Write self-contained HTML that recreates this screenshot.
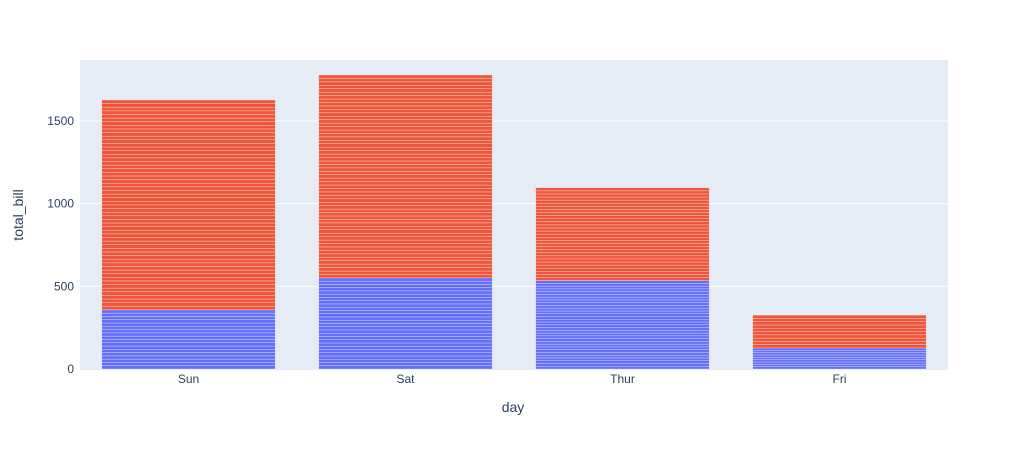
<!DOCTYPE html>
<html><head><meta charset="utf-8"><style>
body{margin:0;background:#fff;font-family:"Liberation Sans",sans-serif}
svg text{font-family:"Liberation Sans",sans-serif;fill:#2a3f5f}
</style></head><body>
<svg id="c" width="1029" height="450">
<rect x="80" y="60" width="868" height="310" fill="#e5ecf6"/>
<g id="grid"></g><g id="bars"></g><g id="ax"></g>
<text x="513" y="412" text-anchor="middle" font-size="14">day</text>
<text transform="translate(23,215) rotate(-90)" text-anchor="middle" font-size="14">total_bill</text>
</svg>
<script>
const categories=["Sun","Sat","Thur","Fri"];
const femaleTotals=[357.70,551.05,534.89,127.31];
const maleTotals=[1269.46,1227.35,561.44,198.57];
const femaleCounts=[18,28,32,9];
const maleCounts=[58,59,30,10];
const yTicks=[0,500,1000,1500];
const NS="http://www.w3.org/2000/svg";
const x0=80,pw=868,yBase=369,yPer=(369-121)/1500;
const band=pw/categories.length;
function y(v){return yBase-v*yPer;}
function xc(i){return x0+band*(i+0.5);}
function mk(t,a,p){const e=document.createElementNS(NS,t);for(const k in a)e.setAttribute(k,a[k]);p.appendChild(e);return e;}
const g=document.getElementById('grid'),b=document.getElementById('bars'),ax=document.getElementById('ax');
yTicks.forEach(v=>{
 if(v>0){const l=mk('line',{x1:80,x2:948,y1:y(v),y2:y(v),stroke:'#fff','stroke-width':1},g);
 
 }
 const t=mk('text',{x:74,y:y(v)+4,'text-anchor':'end','font-size':12},ax);t.textContent=v;
 
 
});
const bw=band*0.8;
categories.forEach((c,i)=>{
 const left=xc(i)-bw/2;
 let acc=0;
 [[femaleTotals[i],femaleCounts[i],'#636efa','female'],[maleTotals[i],maleCounts[i],'#EF553B','male']].forEach(([tot,n,col,s])=>{
  const seg=tot/n;
  for(let k=0;k<n;k++){
   const v0=acc+seg*k,v1=v0+seg;
   const r=mk('rect',{x:left,y:y(v1),width:bw,height:y(v0)-y(v1),fill:col,stroke:'#fff','stroke-width':0.5,'stroke-opacity':0.6},b);
   
   
  }
  acc+=tot;
 });
 const t=mk('text',{x:xc(i),y:383,'text-anchor':'middle','font-size':12},ax);t.textContent=c;
 
 
});
</script>
</body></html>
